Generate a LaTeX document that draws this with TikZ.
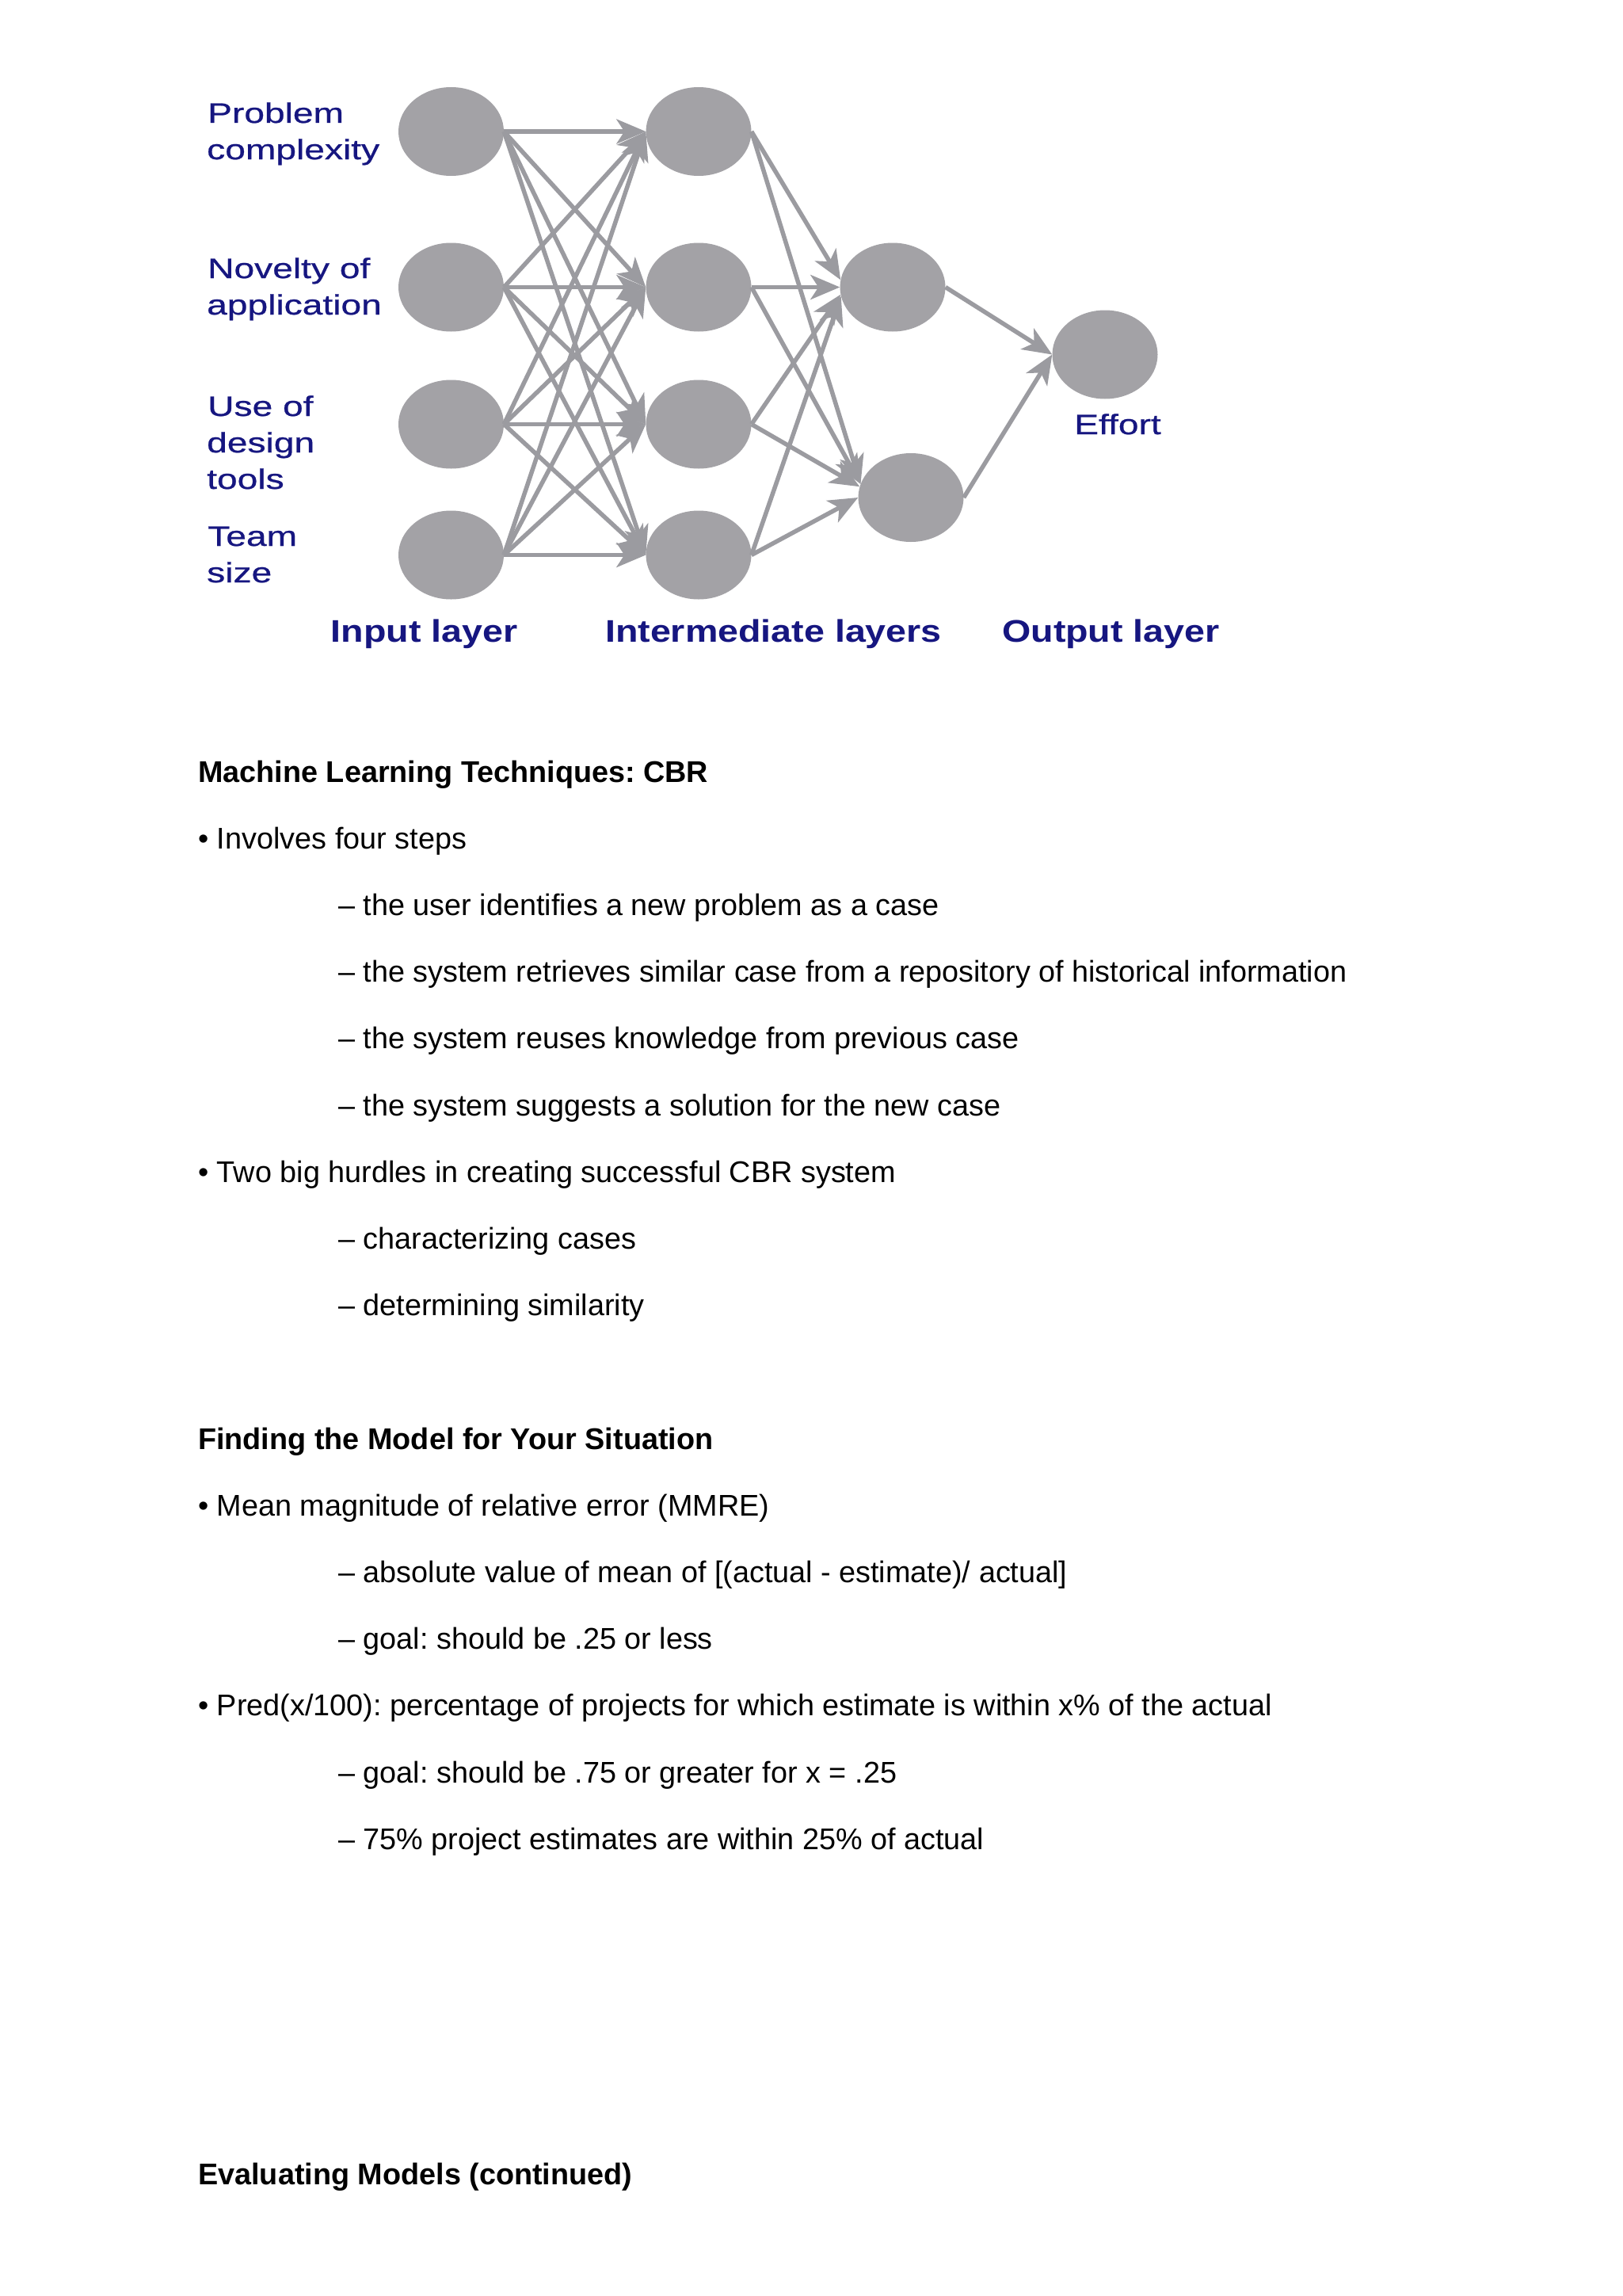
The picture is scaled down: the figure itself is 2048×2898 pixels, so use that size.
\documentclass[tikz,border=0pt]{standalone}
\usepackage{fontspec}
\setmainfont{Liberation Sans}
\newfontfamily\netfont[FakeStretch=1.3,FakeBold=0.7]{Liberation Sans}
\newfontfamily\netboldfont[FakeStretch=1.18]{Liberation Sans}
\usetikzlibrary{shapes.geometric,arrows.meta}
\definecolor{navy}{RGB}{22,22,128}
\definecolor{nodegray}{RGB}{163,162,166}
\definecolor{linegray}{RGB}{155,155,160}
\frenchspacing
\tikzset{
  neuron/.style={ellipse, fill=nodegray, minimum width=133pt, minimum height=112pt, inner sep=0pt},
  conn/.style={draw=linegray, line width=5.5pt, -{Stealth[length=37pt,width=31pt,inset=10pt]}},
  inlabel/.style={font=\netfont\fontsize{35.5pt}{46pt}\selectfont, text=navy, anchor=base west, inner sep=0pt},
  layerlabel/.style={font=\netboldfont\bfseries\fontsize{39.5pt}{48pt}\selectfont, text=navy, anchor=base, inner sep=0pt},
  bodytext/.style={font=\fontsize{37.8pt}{45pt}\selectfont, anchor=base west, inner sep=0pt},
  headtext/.style={font=\bfseries\fontsize{37.8pt}{45pt}\selectfont, anchor=base west, inner sep=0pt}
}
\begin{document}
\begin{tikzpicture}[x=1pt,y=-1pt]
\useasboundingbox (0,0) rectangle (2048,2898);
\fill[white] (0,0) rectangle (2048,2898);

% neurons
\node[neuron] (i1) at (569.5,166) {};
\node[neuron] (i2) at (569.5,362.5) {};
\node[neuron] (i3) at (569.5,535.5) {};
\node[neuron] (i4) at (569.5,700.5) {};
\node[neuron] (h1) at (882,166) {};
\node[neuron] (h2) at (882,362.5) {};
\node[neuron] (h3) at (882,535.5) {};
\node[neuron] (h4) at (882,700.5) {};
\node[neuron] (g1) at (1127,362.5) {};
\node[neuron] (g2) at (1150,628) {};
\node[neuron] (o) at (1395,447.5) {};

% connectors
\foreach \s in {1,...,4}{
  \foreach \t in {1,...,4}{
    \draw[conn] (i\s.east) -- (h\t.west);
  }
}
\draw[conn] (h1.east) -- (g1.172);
\draw[conn] (h2.east) -- (g1.west);
\draw[conn] (h3.east) -- (g1.188);
\draw[conn] (h4.east) -- (g1.190);
\draw[conn] (h1.east) -- (g2.165);
\draw[conn] (h2.east) -- (g2.165);
\draw[conn] (h3.east) -- (g2.168);
\draw[conn] (h4.east) -- (g2.west);
\draw[conn] (g1.east) -- (o.west);
\draw[conn] (g2.east) -- (o.west);

% input labels
\node[inlabel] (la1) at (262,155) {Problem};
\node[inlabel] (la2) at (261,201) {complexity};
\node[inlabel] (lb1) at (262,351) {Novelty of};
\node[inlabel] (lb2) at (261,397) {application};
\node[inlabel] (lc1) at (262,525) {Use of};
\node[inlabel] (lc2) at (261,571) {design};
\node[inlabel] (lc3) at (261,617) {tools};
\node[inlabel] (ld1) at (262,689) {Team};
\node[inlabel] (ld2) at (261,735) {size};
\node[inlabel, anchor=base] (leff) at (1411,548) {Effort};

% layer labels
\node[layerlabel] (lin) at (535.5,810) {Input layer};
\node[layerlabel] (lmid) at (976.5,810) {Intermediate layers};
\node[layerlabel] (lout) at (1402.5,810) {Output layer};

% text body
\node[headtext] (t0) at (250,987) {Machine Learning Techniques: CBR};
\node[bodytext] (t1) at (250,1071.2) {• Involves four steps};
\node[bodytext] (t2) at (427,1155.4) {– the user identifies a new problem as a case};
\node[bodytext] (t3) at (427,1239.6) {– the system retrieves similar case from a repository of historical information};
\node[bodytext] (t4) at (427,1323.8) {– the system reuses knowledge from previous case};
\node[bodytext] (t5) at (427,1408) {– the system suggests a solution for the new case};
\node[bodytext] (t6) at (250,1492.2) {• Two big hurdles in creating successful CBR system};
\node[bodytext] (t7) at (427,1576.4) {– characterizing cases};
\node[bodytext] (t8) at (427,1660.6) {– determining similarity};
\node[headtext] (t9) at (250,1829) {Finding the Model for Your Situation};
\node[bodytext] (t10) at (250,1913.2) {• Mean magnitude of relative error (MMRE)};
\node[bodytext] (t11) at (427,1997.4) {– absolute value of mean of [(actual - estimate)/ actual]};
\node[bodytext] (t12) at (427,2081.6) {– goal: should be .25 or less};
\node[bodytext] (t13) at (250,2165.8) {• Pred(x/100): percentage of projects for which estimate is within x\% of the actual};
\node[bodytext] (t14) at (427,2250) {– goal: should be .75 or greater for x = .25};
\node[bodytext] (t15) at (427,2334.2) {– 75\% project estimates are within 25\% of actual};
\node[headtext] (t16) at (250,2757) {Evaluating Models (continued)};
\end{tikzpicture}
\end{document}
